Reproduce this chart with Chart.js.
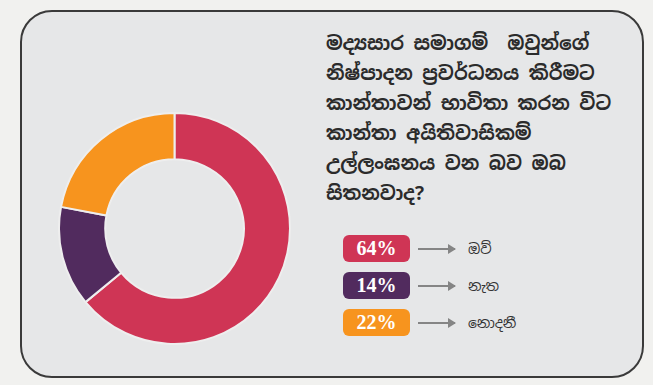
<!DOCTYPE html>
<html>
<head>
<meta charset="utf-8">
<script src="https://cdn.jsdelivr.net/npm/chart.js"></script>
<style>
  html, body { margin: 0; padding: 0; }
  body {
    width: 653px; height: 385px; overflow: hidden; position: relative;
    background: #f1f1ef;
    font-family: "Noto Sans Sinhala", "Iskoola Pota", "Noto Sans", "DejaVu Sans", sans-serif;
  }
  .card {
    position: absolute; left: 20px; top: 10px; width: 620px; height: 364px;
    background: #e6e7e8; border: 2px solid #3a3a3a; border-radius: 32px;
  }
  .chart-box { position: absolute; left: 58px; top: 112px; width: 233px; height: 233px; }
  .title {
    position: absolute; left: 326px; top: 29px; width: 310px; white-space: pre;
    font-size: 19px; font-weight: bold; line-height: 30px; color: #2b2b2b;
  }
  .legend { position: absolute; left: 343px; top: 235px; }
  .row { display: flex; align-items: center; height: 27px; margin-bottom: 10px; }
  .badge {
    width: 67px; height: 27px; border-radius: 6px; color: #fff;
    font-family: "Liberation Serif", "DejaVu Serif", serif; font-size: 20px; font-weight: bold;
    display: flex; align-items: center; justify-content: center;
  }
  .arrow { position: relative; width: 37px; height: 2px; background: #858585; margin-left: 8px; }
  .arrow::after {
    content: ""; position: absolute; right: -1px; top: -4px;
    border-left: 8px solid #858585; border-top: 5px solid transparent; border-bottom: 5px solid transparent;
  }
  .label { margin-left: 13px; font-size: 14px; color: #333; }
</style>
</head>
<body>
<div class="card"></div>
<div class="chart-box"><canvas id="chart"></canvas></div>
<div class="title" id="title"></div>
<div class="legend" id="legend"></div>
<script>
  // data
  const labels = ["ඔව්", "නැත", "නොදනී"];
  const values = [64, 14, 22];
  const colors = ["#cf3555", "#512b5e", "#f7941e"];
  const titleLines = [
    "මද්‍යසාර සමාගම්  ඔවුන්ගේ",
    "නිෂ්පාදන ප්‍රවර්ධනය කිරීමට",
    "කාන්තාවන් භාවිතා කරන විට",
    "කාන්තා අයිතිවාසිකම්",
    "උල්ලංඝනය වන බව ඔබ",
    "සිතනවාද?",
  ];

  document.getElementById("title").textContent = titleLines.join("\n");

  // legend rows
  const legend = document.getElementById("legend");
  labels.forEach((lab, i) => {
    const row = document.createElement("div");
    row.className = "row";
    row.innerHTML =
      `<div class="badge" style="background:${colors[i]}">${values[i]}%</div>` +
      `<div class="arrow"></div><div class="label">${lab}</div>`;
    legend.appendChild(row);
  });

  const ctx = document.getElementById("chart").getContext("2d");
  new Chart(ctx, {
    type: "doughnut",
    data: {
      labels: labels,
      datasets: [
        {
          data: values,
          backgroundColor: colors,
          borderColor: "#eeeeee",
          borderWidth: 2,
          hoverOffset: 0,
        },
      ],
    },
    options: {
      responsive: true,
      maintainAspectRatio: false,
      animation: false,
      cutout: "60%",
      plugins: {
        legend: { display: false },
        tooltip: { enabled: false },
      },
    },
  });
</script>
</body>
</html>
